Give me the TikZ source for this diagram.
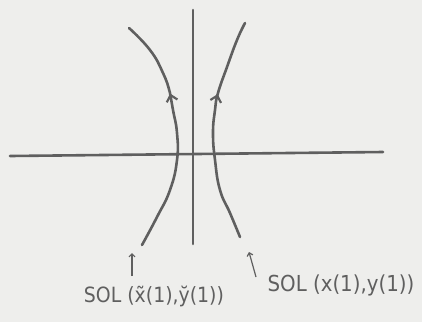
\documentclass[tikz,border=0pt]{standalone}
\usepackage{fontspec}
\newfontfamily\handfont{DejaVu Sans Condensed}
\usetikzlibrary{arrows.meta,decorations.markings}
\definecolor{ink}{RGB}{95,95,95}
\definecolor{paper}{RGB}{238,238,236}
\begin{document}
\begin{tikzpicture}[x=1pt,y=-1pt,
  axis/.style={ink,line width=2.6pt,line cap=round},
  solcurve/.style={ink,line width=2.6pt,line cap=round},
  upmark/.style={postaction={decorate},decoration={markings,
     mark=at position #1 with {\arrow{Straight Barb[length=6pt,width=11pt,line width=2.2pt]}}}},
  pointer/.style={ink,line width=1.2pt,-{Straight Barb[length=3pt,width=6pt]}},
  lbl/.style={ink,font=\handfont\fontsize{21}{23}\selectfont,inner sep=0pt}]
\fill[paper] (0,0) rectangle (422,322);
\useasboundingbox (0,0) rectangle (422,322);
% axes
\coordinate (hl) at (10,156);
\coordinate (hr) at (383,152);
\coordinate (vt) at (193,10);
\coordinate (vb) at (193,244);
\draw[axis] (hl) -- (hr);
\draw[axis] (vt) -- (vb);
% left solution
\draw[solcurve,upmark=0.67] plot[smooth,tension=0.8] coordinates {(142,245) (157,217) (170,190) (177,160) (177,133) (173,110) (170,93) (163,73) (150,50) (129,28)};
% right solution
\draw[solcurve,upmark=0.66] plot[smooth,tension=0.8] coordinates {(240,237) (230,213) (220,190) (215,160) (213,133) (215,110) (218,93) (227,67) (237,40) (245,23)};
% labels
\node[lbl] (l1) at (154,296) {SOL (x̃(1),y̆(1))};
\node[lbl,font=\handfont\fontsize{22}{24}\selectfont] (l2) at (341,285) {SOL (x(1),y(1))};
\coordinate (p1s) at (132,276);
\coordinate (p1e) at (132,253);
\coordinate (p2s) at (256,277);
\coordinate (p2e) at (249,252);
\draw[pointer] (p1s) -- (p1e);
\draw[pointer] (p2s) -- (p2e);
\end{tikzpicture}
\end{document}
